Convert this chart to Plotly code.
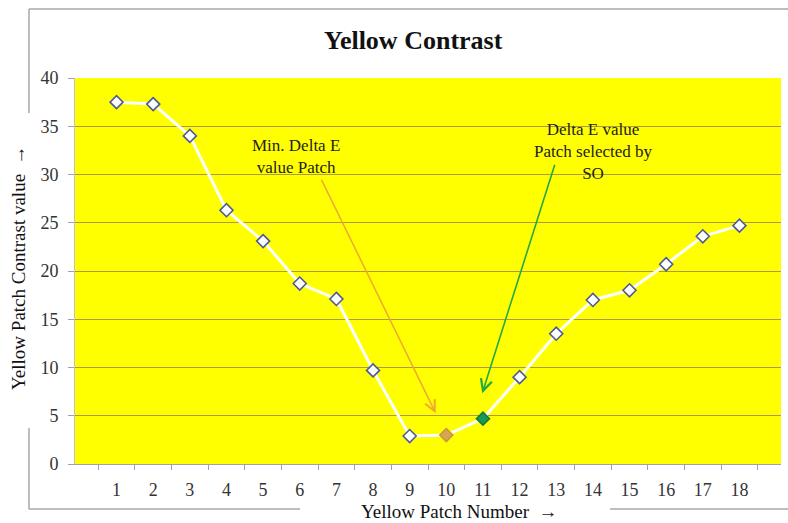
import plotly.graph_objects as go

patches = [str(i) for i in range(1, 19)]
contrast = [37.5, 37.3, 34.0, 26.3, 23.1, 18.7, 17.1, 9.7, 2.9, 3.0, 4.7, 9.0, 13.5, 17.0, 18.0, 20.7, 23.6, 24.7]
y_ticks = [0, 5, 10, 15, 20, 25, 30, 35, 40]

fill_colors = ["white"] * 18
line_colors = ["#4b5a9b"] * 18
fill_colors[9] = "#d6a650"
line_colors[9] = "#c8963c"
fill_colors[10] = "#1a9a55"
line_colors[10] = "#137a40"

FONT = "Liberation Serif, Times New Roman, serif"

fig = go.Figure()
fig.add_trace(go.Scatter(
    x=patches, y=contrast, mode="lines+markers",
    line=dict(color="white", width=3),
    marker=dict(symbol="diamond", size=10, color=fill_colors,
                line=dict(color=line_colors, width=1.6)),
    showlegend=False, hoverinfo="x+y",
))

fig.update_layout(
    width=788, height=523,
    margin=dict(l=75, r=7, t=78, b=59, autoexpand=False),
    paper_bgcolor="white", plot_bgcolor="#ffff00",
    font=dict(family=FONT, color="#333333", size=16),
    title=dict(text="<b>Yellow Contrast</b>", x=0.479, xref="paper", xanchor="center",
               y=1 - 40 / 523, yref="container", yanchor="middle",
               font=dict(family=FONT, size=26, color="#111111")),
    xaxis=dict(type="category", tickson="boundaries", ticks="outside", ticklen=5,
               tickcolor="#a0a0b0", showline=True, linecolor="#a0a0b0", showgrid=False,
               automargin=False,
               tickfont=dict(size=18, color="#333333"), ticklabelstandoff=9),
    yaxis=dict(range=[0, 40], tickvals=y_ticks, ticks="outside", ticklen=6,
               tickcolor="#a0a0b0", showline=True, linecolor="#c0c0d0",
               showgrid=True, gridcolor="#aa9a40", gridwidth=1, zeroline=False,
               automargin=False,
               tickfont=dict(size=18, color="#333333"), ticklabelstandoff=6),
)

# outer frame (partial, broken by axis titles)
frame = dict(type="line", xref="paper", yref="paper", line=dict(color="#a8a8a8", width=1.5))
fig.add_shape(x0=-0.0652, x1=1.02, y0=1.1788, y1=1.1788, **frame)
fig.add_shape(x0=-0.0652, x1=-0.0652, y0=1.1788, y1=0.9093, **frame)
fig.add_shape(x0=-0.0652, x1=-0.0652, y0=0.0933, y1=-0.1166, **frame)
fig.add_shape(x0=-0.0652, x1=0.3187, y0=-0.1166, y1=-0.1166, **frame)
fig.add_shape(x0=0.7578, x1=1.02, y0=-0.1166, y1=-0.1166, **frame)

# axis titles
fig.add_annotation(text="Yellow Patch Number  \u2192", xref="paper", yref="paper",
                   x=0.545, y=-0.122, xanchor="center", yanchor="middle", showarrow=False,
                   font=dict(size=19, color="#111111"))
fig.add_annotation(text="Yellow Patch Contrast value  \u2192", xref="paper", yref="paper",
                   x=-0.081, y=0.51, xanchor="center", yanchor="middle",
                   textangle=-90, showarrow=False,
                   font=dict(size=19, color="#111111"))

# callouts
fig.add_annotation(text="Min. Delta E<br>value Patch", xref="x", yref="y",
                   x=4.91, y=31.9, showarrow=False, align="center",
                   font=dict(size=17, color="#222222"))
fig.add_annotation(x=8.71, y=5.27, xref="x", yref="y", text="",
                   ax=-115, ay=-235, showarrow=True, arrowhead=5, arrowsize=1.4,
                   arrowwidth=1.5, arrowcolor="#f0a830")
fig.add_annotation(text="Delta E value<br>Patch selected by<br>SO", xref="x", yref="y",
                   x=13.03, y=32.4, showarrow=False, align="center",
                   font=dict(size=17, color="#222222"))
fig.add_annotation(x=9.98, y=7.34, xref="x", yref="y", text="",
                   ax=73, ay=-230, showarrow=True, arrowhead=5, arrowsize=1.4,
                   arrowwidth=1.6, arrowcolor="#22aa44")

fig.write_html("out.html", config={"displayModeBar": False},
               post_script="document.body.style.margin='0';")
